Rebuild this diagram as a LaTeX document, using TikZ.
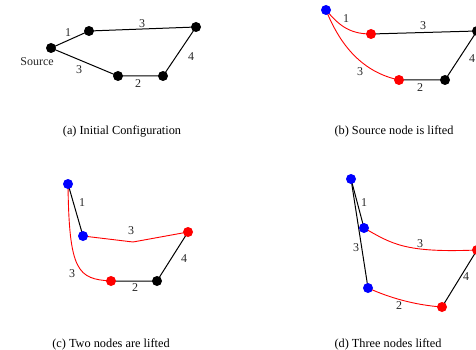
\documentclass[tikz,border=0pt]{standalone}
\usepackage{fontspec}
\setmainfont{Liberation Serif}
\begin{document}
\begin{tikzpicture}[x=1pt,y=-1pt,
  dot/.style={circle,inner sep=0pt,minimum size=10pt,fill=black},
  bdot/.style={dot,fill=blue},
  rdot/.style={dot,fill=red},
  edge/.style={line width=1pt,black},
  redge/.style={line width=0.9pt,red},
  lbl/.style={font=\fontsize{12}{14}\selectfont,inner sep=0pt,text=black!85},
  captxt/.style={font=\fontsize{12.3}{14}\selectfont,inner sep=0pt}]
\useasboundingbox (0,0) rectangle (476,350);
\clip (0,0) rectangle (476,350);
% ---------- (a)
\coordinate (sa) at (51,48);
\coordinate (aa) at (89,31);
\coordinate (ba) at (196,27);
\coordinate (ca) at (163,76);
\coordinate (da) at (118,76);
\draw[edge] (sa) -- (aa) -- (ba) -- (ca) -- (da) -- (sa);
\node[dot] (nsa) at (sa) {};
\node[dot] (naa) at (aa) {};
\node[dot] (nba) at (ba) {};
\node[dot] (nca) at (ca) {};
\node[dot] (nda) at (da) {};
\node[lbl] (src) at (37,62) {Source};
\node[lbl] (la1) at (68,33) {1};
\node[lbl] (la2) at (142,24) {3};
\node[lbl] (la3) at (191,57) {4};
\node[lbl] (la4) at (79,70) {3};
\node[lbl] (la5) at (138,84) {2};
\node[captxt] (capa) at (122,131) {(a) Initial Configuration};
% ---------- (b)
\coordinate (sb) at (326,10);
\coordinate (ab) at (371,34);
\coordinate (bb) at (477,31);
\coordinate (cb) at (445,80);
\coordinate (db) at (399,80);
\draw[redge] (sb) .. controls (338,24) and (348,34) .. (ab);
\draw[redge] (sb) .. controls (340,45) and (362,72) .. (db);
\draw[edge] (ab) -- (bb) -- (cb) -- (db);
\node[bdot] (nsb) at (sb) {};
\node[rdot] (nab) at (ab) {};
\node[dot] (nbb) at (bb) {};
\node[dot] (ncb) at (cb) {};
\node[rdot] (ndb) at (db) {};
\node[lbl] (lb1) at (346,19) {1};
\node[lbl] (lb2) at (423,26) {3};
\node[lbl] (lb3) at (472,59) {4};
\node[lbl] (lb4) at (360,72) {3};
\node[lbl] (lb5) at (420,88) {2};
\node[captxt] (capb) at (394,131) {(b) Source node is lifted};
% ---------- (c)
\coordinate (sc) at (68,184);
\coordinate (ac) at (83,236);
\coordinate (bc) at (188,232);
\coordinate (cc) at (157,281);
\coordinate (dc) at (111,281);
\coordinate (kc) at (133,242);
\draw[edge] (sc) -- (ac);
\draw[redge] (ac) -- (kc) -- (bc);
\draw[redge] (sc) .. controls (69,272) and (78,279) .. (dc);
\draw[edge] (bc) -- (cc) -- (dc);
\node[bdot] (nsc) at (sc) {};
\node[bdot] (nac) at (ac) {};
\node[rdot] (nbc) at (bc) {};
\node[dot] (ncc) at (cc) {};
\node[rdot] (ndc) at (dc) {};
\node[lbl] (lc1) at (82,203) {1};
\node[lbl] (lc2) at (131,231) {3};
\node[lbl] (lc3) at (184,259) {4};
\node[lbl] (lc4) at (72,274) {3};
\node[lbl] (lc5) at (135,288) {2};
\node[captxt] (capc) at (111,344) {(c) Two nodes are lifted};
% ---------- (d)
\coordinate (sd) at (351,179);
\coordinate (ad) at (364,228);
\coordinate (bd) at (477,250);
\coordinate (cd) at (442,307);
\coordinate (dd) at (368,288);
\draw[edge] (sd) -- (ad);
\draw[edge] (sd) -- (dd);
\draw[redge] (ad) .. controls (392,244) and (405,253) .. (bd);
\draw[redge] (dd) .. controls (390,298) and (415,305) .. (cd);
\draw[edge] (bd) -- (cd);
\node[bdot] (nsd) at (sd) {};
\node[bdot] (nad) at (ad) {};
\node[rdot] (nbd) at (bd) {};
\node[rdot] (ncd) at (cd) {};
\node[bdot] (ndd) at (dd) {};
\node[lbl] (ld1) at (364,203) {1};
\node[lbl] (ld2) at (420,244) {3};
\node[lbl] (ld3) at (356,248) {3};
\node[lbl] (ld4) at (466,277) {4};
\node[lbl] (ld5) at (399,306) {2};
\node[captxt] (capd) at (388,344) {(d) Three nodes lifted};
\end{tikzpicture}
\end{document}
